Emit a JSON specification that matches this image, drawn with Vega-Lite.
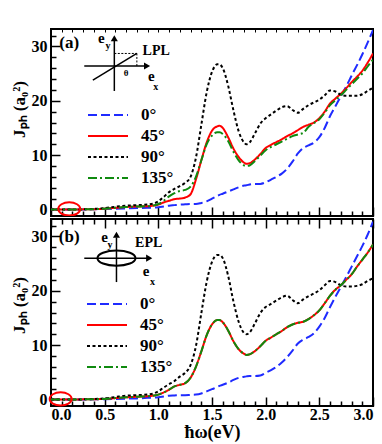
{
  "$schema": "https://vega.github.io/schema/vega-lite/v6.json",
  "padding": {"left": 9, "top": 27, "right": 5, "bottom": 5},
  "background": "white",
  "spacing": -8,
  "config": {
    "view": {"stroke": "black", "strokeWidth": 2},
    "font": "Liberation Serif",
    "axis": {"domain": false, "grid": false, "tickColor": "black", "tickWidth": 1.5, "labelColor": "black", "labelFont": "Liberation Serif", "labelFontWeight": "bold", "labelFontSize": 16, "titleColor": "black", "titleFont": "Liberation Serif", "titleFontWeight": "bold", "minExtent": 0},
    "legend": {"orient": "none", "title": null, "symbolType": "M-2,0H2", "symbolSize": 400, "symbolOffset": 9, "symbolStrokeWidth": 2, "labelFont": "Liberation Serif", "labelFontWeight": "bold", "labelFontSize": 17, "labelColor": "black", "labelOffset": 22, "padding": 0, "rowPadding": 2}
  },
  "datasets": {
    "da": [
      {"x": 0.0, "0°": 0, "45°": 0, "90°": 0, "135°": 0},
      {"x": 0.1, "0°": 0, "45°": 0, "90°": 0, "135°": 0},
      {"x": 0.2, "0°": 0, "45°": 0, "90°": 0, "135°": 0},
      {"x": 0.3, "0°": 0, "45°": 0.02, "90°": 0.02, "135°": 0.02},
      {"x": 0.4, "0°": 0.05, "45°": 0.05, "90°": 0.1, "135°": 0.05},
      {"x": 0.5, "0°": 0.1, "45°": 0.15, "90°": 0.25, "135°": 0.15},
      {"x": 0.6, "0°": 0.15, "45°": 0.3, "90°": 0.5, "135°": 0.3},
      {"x": 0.7, "0°": 0.2, "45°": 0.45, "90°": 0.7, "135°": 0.45},
      {"x": 0.8, "0°": 0.25, "45°": 0.55, "90°": 0.8, "135°": 0.55},
      {"x": 0.9, "0°": 0.3, "45°": 0.6, "90°": 0.9, "135°": 0.6},
      {"x": 1.0, "0°": 0.4, "45°": 0.9, "90°": 1.5, "135°": 1.0},
      {"x": 1.05, "0°": 0.55, "45°": 1.3, "90°": 2.3, "135°": 1.6},
      {"x": 1.1, "0°": 0.7, "45°": 1.6, "90°": 3.2, "135°": 2.4},
      {"x": 1.15, "0°": 0.8, "45°": 1.9, "90°": 3.8, "135°": 3.0},
      {"x": 1.2, "0°": 0.9, "45°": 2.0, "90°": 4.3, "135°": 3.4},
      {"x": 1.25, "0°": 0.95, "45°": 2.2, "90°": 4.9, "135°": 3.6},
      {"x": 1.3, "0°": 1.0, "45°": 2.8, "90°": 6.0, "135°": 4.2},
      {"x": 1.35, "0°": 1.0, "45°": 5.5, "90°": 9.5, "135°": 6.0},
      {"x": 1.4, "0°": 1.2, "45°": 9.0, "90°": 15.5, "135°": 9.0},
      {"x": 1.45, "0°": 1.5, "45°": 12.3, "90°": 21.5, "135°": 12.0},
      {"x": 1.5, "0°": 2.0, "45°": 14.5, "90°": 25.3, "135°": 13.6},
      {"x": 1.55, "0°": 2.5, "45°": 15.3, "90°": 26.7, "135°": 14.2},
      {"x": 1.57, "0°": 2.7, "45°": 15.4, "90°": 26.7, "135°": 14.2},
      {"x": 1.6, "0°": 2.9, "45°": 15.0, "90°": 26.0, "135°": 13.9},
      {"x": 1.65, "0°": 3.3, "45°": 13.3, "90°": 22.8, "135°": 12.6},
      {"x": 1.7, "0°": 3.7, "45°": 11.2, "90°": 18.2, "135°": 10.6},
      {"x": 1.75, "0°": 4.1, "45°": 9.6, "90°": 14.3, "135°": 9.0},
      {"x": 1.8, "0°": 4.4, "45°": 8.6, "90°": 12.3, "135°": 8.1},
      {"x": 1.82, "0°": 4.45, "45°": 8.4, "90°": 12.0, "135°": 8.0},
      {"x": 1.85, "0°": 4.6, "45°": 8.5, "90°": 12.3, "135°": 8.1},
      {"x": 1.9, "0°": 4.7, "45°": 9.2, "90°": 14.0, "135°": 8.9},
      {"x": 1.95, "0°": 4.7, "45°": 10.2, "90°": 15.8, "135°": 9.9},
      {"x": 2.0, "0°": 5.0, "45°": 11.3, "90°": 16.8, "135°": 10.9},
      {"x": 2.05, "0°": 5.5, "45°": 11.9, "90°": 17.5, "135°": 11.5},
      {"x": 2.1, "0°": 6.0, "45°": 12.4, "90°": 18.2, "135°": 12.0},
      {"x": 2.15, "0°": 6.6, "45°": 12.9, "90°": 18.8, "135°": 12.5},
      {"x": 2.2, "0°": 7.5, "45°": 13.5, "90°": 19.0, "135°": 13.0},
      {"x": 2.25, "0°": 8.8, "45°": 14.0, "90°": 18.3, "135°": 13.5},
      {"x": 2.3, "0°": 10.3, "45°": 14.6, "90°": 17.8, "135°": 13.8},
      {"x": 2.35, "0°": 11.3, "45°": 15.2, "90°": 18.5, "135°": 14.1},
      {"x": 2.4, "0°": 11.8, "45°": 15.6, "90°": 19.2, "135°": 15.2},
      {"x": 2.45, "0°": 12.3, "45°": 16.0, "90°": 19.7, "135°": 15.9},
      {"x": 2.5, "0°": 13.3, "45°": 16.8, "90°": 20.2, "135°": 16.6},
      {"x": 2.55, "0°": 15.0, "45°": 18.0, "90°": 21.0, "135°": 17.8},
      {"x": 2.6, "0°": 17.2, "45°": 19.5, "90°": 21.9, "135°": 19.2},
      {"x": 2.65, "0°": 19.0, "45°": 20.4, "90°": 21.7, "135°": 20.1},
      {"x": 2.7, "0°": 20.8, "45°": 21.3, "90°": 21.1, "135°": 21.0},
      {"x": 2.75, "0°": 22.6, "45°": 22.3, "90°": 20.9, "135°": 22.0},
      {"x": 2.8, "0°": 24.6, "45°": 23.4, "90°": 20.9, "135°": 23.0},
      {"x": 2.85, "0°": 26.5, "45°": 24.4, "90°": 20.9, "135°": 24.0},
      {"x": 2.9, "0°": 28.5, "45°": 25.5, "90°": 21.2, "135°": 25.0},
      {"x": 2.95, "0°": 30.7, "45°": 27.0, "90°": 21.8, "135°": 26.3},
      {"x": 3.0, "0°": 33.0, "45°": 28.7, "90°": 22.4, "135°": 27.6}
    ],
    "db": [
      {"x": 0.0, "0°": 0, "45°": 0, "90°": 0, "135°": 0},
      {"x": 0.1, "0°": 0, "45°": 0, "90°": 0, "135°": 0},
      {"x": 0.2, "0°": 0, "45°": 0, "90°": 0, "135°": 0},
      {"x": 0.3, "0°": 0, "45°": 0.02, "90°": 0.02, "135°": 0.02},
      {"x": 0.4, "0°": 0.02, "45°": 0.05, "90°": 0.08, "135°": 0.05},
      {"x": 0.5, "0°": 0.05, "45°": 0.1, "90°": 0.2, "135°": 0.1},
      {"x": 0.6, "0°": 0.1, "45°": 0.25, "90°": 0.45, "135°": 0.25},
      {"x": 0.7, "0°": 0.15, "45°": 0.4, "90°": 0.7, "135°": 0.4},
      {"x": 0.8, "0°": 0.2, "45°": 0.5, "90°": 0.8, "135°": 0.5},
      {"x": 0.9, "0°": 0.3, "45°": 0.6, "90°": 0.9, "135°": 0.6},
      {"x": 1.0, "0°": 0.4, "45°": 0.9, "90°": 1.5, "135°": 0.9},
      {"x": 1.05, "0°": 0.55, "45°": 1.3, "90°": 2.2, "135°": 1.3},
      {"x": 1.1, "0°": 0.7, "45°": 1.8, "90°": 2.8, "135°": 1.8},
      {"x": 1.15, "0°": 0.75, "45°": 2.4, "90°": 3.4, "135°": 2.4},
      {"x": 1.2, "0°": 0.8, "45°": 2.7, "90°": 4.2, "135°": 2.7},
      {"x": 1.25, "0°": 0.8, "45°": 3.0, "90°": 4.9, "135°": 3.0},
      {"x": 1.3, "0°": 0.85, "45°": 4.0, "90°": 6.3, "135°": 4.0},
      {"x": 1.35, "0°": 0.9, "45°": 6.0, "90°": 9.8, "135°": 6.0},
      {"x": 1.4, "0°": 1.1, "45°": 8.8, "90°": 15.8, "135°": 8.8},
      {"x": 1.45, "0°": 1.5, "45°": 11.8, "90°": 21.6, "135°": 11.8},
      {"x": 1.5, "0°": 1.9, "45°": 13.8, "90°": 25.3, "135°": 13.8},
      {"x": 1.55, "0°": 2.3, "45°": 14.6, "90°": 26.6, "135°": 14.6},
      {"x": 1.57, "0°": 2.5, "45°": 14.6, "90°": 26.6, "135°": 14.6},
      {"x": 1.6, "0°": 2.7, "45°": 14.2, "90°": 26.0, "135°": 14.2},
      {"x": 1.65, "0°": 3.1, "45°": 12.7, "90°": 22.8, "135°": 12.7},
      {"x": 1.7, "0°": 3.6, "45°": 10.7, "90°": 18.0, "135°": 10.7},
      {"x": 1.75, "0°": 4.0, "45°": 9.2, "90°": 14.2, "135°": 9.2},
      {"x": 1.8, "0°": 4.2, "45°": 8.4, "90°": 12.2, "135°": 8.4},
      {"x": 1.82, "0°": 4.25, "45°": 8.2, "90°": 12.0, "135°": 8.2},
      {"x": 1.85, "0°": 4.3, "45°": 8.3, "90°": 12.3, "135°": 8.3},
      {"x": 1.9, "0°": 4.3, "45°": 8.9, "90°": 14.0, "135°": 8.9},
      {"x": 1.95, "0°": 4.4, "45°": 9.8, "90°": 15.9, "135°": 9.8},
      {"x": 2.0, "0°": 4.9, "45°": 10.8, "90°": 17.0, "135°": 10.8},
      {"x": 2.05, "0°": 5.4, "45°": 11.4, "90°": 17.6, "135°": 11.4},
      {"x": 2.1, "0°": 6.0, "45°": 12.0, "90°": 18.2, "135°": 12.0},
      {"x": 2.15, "0°": 6.8, "45°": 12.6, "90°": 18.8, "135°": 12.6},
      {"x": 2.2, "0°": 7.8, "45°": 13.3, "90°": 19.1, "135°": 13.3},
      {"x": 2.25, "0°": 9.0, "45°": 13.8, "90°": 18.3, "135°": 13.8},
      {"x": 2.3, "0°": 10.3, "45°": 14.1, "90°": 17.7, "135°": 14.1},
      {"x": 2.35, "0°": 11.0, "45°": 14.3, "90°": 18.4, "135°": 14.3},
      {"x": 2.4, "0°": 11.5, "45°": 14.8, "90°": 19.0, "135°": 14.8},
      {"x": 2.45, "0°": 12.2, "45°": 15.5, "90°": 19.5, "135°": 15.5},
      {"x": 2.5, "0°": 13.4, "45°": 16.4, "90°": 20.1, "135°": 16.4},
      {"x": 2.55, "0°": 15.0, "45°": 17.7, "90°": 21.0, "135°": 17.7},
      {"x": 2.6, "0°": 17.0, "45°": 19.1, "90°": 21.8, "135°": 19.1},
      {"x": 2.65, "0°": 18.9, "45°": 20.2, "90°": 21.6, "135°": 20.2},
      {"x": 2.7, "0°": 20.7, "45°": 21.0, "90°": 21.0, "135°": 21.0},
      {"x": 2.75, "0°": 22.5, "45°": 22.0, "90°": 20.8, "135°": 22.0},
      {"x": 2.8, "0°": 24.4, "45°": 23.0, "90°": 20.8, "135°": 23.0},
      {"x": 2.85, "0°": 26.3, "45°": 24.4, "90°": 20.9, "135°": 24.4},
      {"x": 2.9, "0°": 28.2, "45°": 25.7, "90°": 21.2, "135°": 25.7},
      {"x": 2.95, "0°": 30.3, "45°": 27.0, "90°": 21.8, "135°": 27.0},
      {"x": 3.0, "0°": 32.7, "45°": 28.5, "90°": 22.3, "135°": 28.5}
    ]
  },
  "vconcat": [
    {
      "width": 322,
      "height": 187,
      "resolve": {"axis": {"x": "independent", "y": "independent"}},
      "layer": [
        {
          "data": {"name": "da"},
          "transform": [{"fold": ["0°", "45°", "90°", "135°"], "as": ["angle", "J"]}],
          "mark": {"type": "line", "strokeWidth": 2, "interpolate": "monotone", "clip": true},
          "encoding": {
            "x": {"field": "x", "type": "quantitative", "scale": {"domain": [0, 3], "nice": false},
                  "axis": {"orient": "bottom", "values": [0, 0.5, 1, 1.5, 2, 2.5, 3], "tickSize": 9, "offset": -9, "labels": false, "title": null, "maxExtent": 0}},
            "y": {"field": "J", "type": "quantitative", "scale": {"domain": [-1.2, 33.2], "nice": false, "zero": false},
                  "axis": {"orient": "left", "values": [0, 10, 20, 30], "tickSize": 9, "offset": -9, "labelPadding": 4, "title": "Jₚₕ (a₀²)", "titleFontSize": 17, "titleX": -41, "titleY": 80, "titleBaseline": "middle"}},
            "color": {"field": "angle", "type": "nominal",
                      "scale": {"domain": ["0°", "45°", "90°", "135°"], "range": ["#1f2bff", "#ff0000", "#000000", "#0f8a0f"]},
                      "legend": {"legendX": 37, "legendY": 75}},
            "strokeDash": {"field": "angle", "type": "nominal",
                      "scale": {"domain": ["0°", "45°", "90°", "135°"], "range": [[9, 4], [1, 0], [3, 2.5], [9, 3, 2, 3]]},
                      "legend": {"legendX": 37, "legendY": 75}}
          }
        },
        {
          "data": {"name": "da"},
          "mark": {"type": "point", "opacity": 0, "clip": true},
          "encoding": {
            "x": {"field": "x", "type": "quantitative", "axis": {"orient": "bottom", "values": [0.1, 0.2, 0.3, 0.4, 0.6, 0.7, 0.8, 0.9, 1.1, 1.2, 1.3, 1.4, 1.6, 1.7, 1.8, 1.9, 2.1, 2.2, 2.3, 2.4, 2.6, 2.7, 2.8, 2.9], "tickSize": 5, "offset": -5, "labels": false, "title": null, "maxExtent": 0}},
            "y": {"field": "45°", "type": "quantitative", "axis": {"orient": "left", "values": [2, 4, 6, 8, 12, 14, 16, 18, 22, 24, 26, 28, 32], "tickSize": 5, "offset": -5, "labels": false, "title": null, "maxExtent": 0}}
          }
        },
        {
          "data": {"name": "da"},
          "mark": {"type": "point", "opacity": 0, "clip": true},
          "encoding": {
            "x": {"field": "x", "type": "quantitative", "axis": {"orient": "top", "values": [0.1, 0.2, 0.3, 0.4, 0.5, 0.6, 0.7, 0.8, 0.9, 1, 1.1, 1.2, 1.3, 1.4, 1.5, 1.6, 1.7, 1.8, 1.9, 2, 2.1, 2.2, 2.3, 2.4, 2.5, 2.6, 2.7, 2.8, 2.9], "tickSize": 3, "offset": -3, "tickWidth": 1, "labels": false, "title": null, "maxExtent": 0}},
            "y": {"field": "45°", "type": "quantitative", "axis": null}
          }
        },
        {
          "data": {"values": [{}]},
          "mark": {"type": "rule", "color": "black", "strokeWidth": 1.5},
          "encoding": {"x": {"datum": 0.31, "type": "quantitative", "axis": null}, "x2": {"datum": 0.88}, "y": {"datum": 26.4, "type": "quantitative", "axis": null}}
        },
        {
          "data": {"values": [{}]},
          "mark": {"type": "rule", "color": "black", "strokeWidth": 1.5},
          "encoding": {"x": {"datum": 0.59, "type": "quantitative", "axis": null}, "y": {"datum": 21.8, "type": "quantitative", "axis": null}, "y2": {"datum": 31.0}}
        },
        {
          "data": {"values": [{}]},
          "mark": {"type": "rule", "color": "black", "strokeWidth": 1.5},
          "encoding": {"x": {"datum": 0.39, "type": "quantitative", "axis": null}, "x2": {"datum": 0.80}, "y": {"datum": 23.8, "type": "quantitative", "axis": null}, "y2": {"datum": 28.7}}
        },
        {
          "data": {"values": [{}]},
          "mark": {"type": "rule", "color": "black", "strokeWidth": 1, "strokeDash": [2, 1.5]},
          "encoding": {"x": {"datum": 0.59, "type": "quantitative", "axis": null}, "x2": {"datum": 0.80}, "y": {"datum": 28.7, "type": "quantitative", "axis": null}}
        },
        {
          "data": {"values": [{}]},
          "mark": {"type": "rule", "color": "black", "strokeWidth": 1, "strokeDash": [2, 1.5]},
          "encoding": {"x": {"datum": 0.80, "type": "quantitative", "axis": null}, "y": {"datum": 26.4, "type": "quantitative", "axis": null}, "y2": {"datum": 28.7}}
        },
        {
          "data": {"values": [{}]},
          "mark": {"type": "point", "shape": "triangle-right", "filled": true, "color": "black", "size": 50, "opacity": 1},
          "encoding": {"x": {"datum": 0.895, "type": "quantitative", "axis": null}, "y": {"datum": 26.4, "type": "quantitative", "axis": null}}
        },
        {
          "data": {"values": [{}]},
          "mark": {"type": "point", "shape": "triangle-up", "filled": true, "color": "black", "size": 50, "opacity": 1},
          "encoding": {"x": {"datum": 0.59, "type": "quantitative", "axis": null}, "y": {"datum": 31.5, "type": "quantitative", "axis": null}}
        },
        {
          "data": {"values": [{}]},
          "mark": {"type": "text", "text": "θ", "font": "Liberation Serif", "fontWeight": "bold", "fontSize": 9, "color": "black"},
          "encoding": {"x": {"datum": 0.70, "type": "quantitative", "axis": null}, "y": {"datum": 25.1, "type": "quantitative", "axis": null}}
        },
        {
          "data": {"values": [{}]},
          "mark": {"type": "text", "text": "e", "font": "Liberation Serif", "fontWeight": "bold", "fontSize": 15, "color": "black"},
          "encoding": {"x": {"datum": 0.47, "type": "quantitative", "axis": null}, "y": {"datum": 31.6, "type": "quantitative", "axis": null}}
        },
        {
          "data": {"values": [{}]},
          "mark": {"type": "text", "text": "y", "font": "Liberation Serif", "fontWeight": "bold", "fontSize": 10, "color": "black"},
          "encoding": {"x": {"datum": 0.53, "type": "quantitative", "axis": null}, "y": {"datum": 30.1, "type": "quantitative", "axis": null}}
        },
        {
          "data": {"values": [{}]},
          "mark": {"type": "text", "text": "e", "font": "Liberation Serif", "fontWeight": "bold", "fontSize": 15, "color": "black"},
          "encoding": {"x": {"datum": 0.935, "type": "quantitative", "axis": null}, "y": {"datum": 24.6, "type": "quantitative", "axis": null}}
        },
        {
          "data": {"values": [{}]},
          "mark": {"type": "text", "text": "x", "font": "Liberation Serif", "fontWeight": "bold", "fontSize": 10, "color": "black"},
          "encoding": {"x": {"datum": 0.975, "type": "quantitative", "axis": null}, "y": {"datum": 22.5, "type": "quantitative", "axis": null}}
        },
        {
          "data": {"values": [{}]},
          "mark": {"type": "text", "text": "LPL", "font": "Liberation Serif", "fontWeight": "bold", "fontSize": 14, "color": "black"},
          "encoding": {"x": {"datum": 0.98, "type": "quantitative", "axis": null}, "y": {"datum": 29.2, "type": "quantitative", "axis": null}}
        },
        {
          "data": {"values": [{}]},
          "mark": {"type": "text", "text": "(a)", "font": "Liberation Serif", "fontWeight": "bold", "fontSize": 17, "color": "black"},
          "encoding": {"x": {"datum": 0.17, "type": "quantitative", "axis": null}, "y": {"datum": 30.6, "type": "quantitative", "axis": null}}
        },
        {
          "data": {"values": [{}]},
          "mark": {"type": "point", "shape": "M-1,0A1,0.6,0,1,1,1,0A1,0.6,0,1,1,-1,0Z", "filled": false, "color": "#ff0000", "strokeWidth": 2, "size": 484, "opacity": 1, "clip": true},
          "encoding": {"x": {"datum": 0.17, "type": "quantitative", "axis": null}, "y": {"datum": 0.1, "type": "quantitative", "axis": null}}
        }
      ]
    },
    {
      "width": 322,
      "height": 187,
      "resolve": {"axis": {"x": "independent", "y": "independent"}},
      "layer": [
        {
          "data": {"name": "db"},
          "transform": [{"fold": ["0°", "45°", "90°", "135°"], "as": ["angle", "J"]}],
          "mark": {"type": "line", "strokeWidth": 2, "interpolate": "monotone", "clip": true},
          "encoding": {
            "x": {"field": "x", "type": "quantitative", "scale": {"domain": [0, 3], "nice": false},
                  "axis": {"orient": "bottom", "values": [0, 0.5, 1, 1.5, 2, 2.5, 3], "format": ".1f", "tickSize": 9, "offset": -9, "labelPadding": 0, "title": "ħω(eV)", "titleFontSize": 18, "titlePadding": 1}},
            "y": {"field": "J", "type": "quantitative", "scale": {"domain": [-1.2, 33.2], "nice": false, "zero": false},
                  "axis": {"orient": "left", "values": [0, 10, 20, 30], "tickSize": 9, "offset": -9, "labelPadding": 4, "title": "Jₚₕ (a₀²)", "titleFontSize": 17, "titleX": -41, "titleY": 86, "titleBaseline": "middle"}},
            "color": {"field": "angle", "type": "nominal",
                      "scale": {"domain": ["0°", "45°", "90°", "135°"], "range": ["#1f2bff", "#ff0000", "#000000", "#0f8a0f"]},
                      "legend": {"legendX": 36, "legendY": 74}},
            "strokeDash": {"field": "angle", "type": "nominal",
                      "scale": {"domain": ["0°", "45°", "90°", "135°"], "range": [[9, 4], [1, 0], [3, 2.5], [9, 3, 2, 3]]},
                      "legend": {"legendX": 36, "legendY": 74}}
          }
        },
        {
          "data": {"name": "db"},
          "mark": {"type": "point", "opacity": 0, "clip": true},
          "encoding": {
            "x": {"field": "x", "type": "quantitative", "axis": {"orient": "bottom", "values": [0.1, 0.2, 0.3, 0.4, 0.6, 0.7, 0.8, 0.9, 1.1, 1.2, 1.3, 1.4, 1.6, 1.7, 1.8, 1.9, 2.1, 2.2, 2.3, 2.4, 2.6, 2.7, 2.8, 2.9], "tickSize": 5, "offset": -5, "labels": false, "title": null, "maxExtent": 0}},
            "y": {"field": "45°", "type": "quantitative", "axis": {"orient": "left", "values": [2, 4, 6, 8, 12, 14, 16, 18, 22, 24, 26, 28, 32], "tickSize": 5, "offset": -5, "labels": false, "title": null, "maxExtent": 0}}
          }
        },
        {
          "data": {"name": "db"},
          "mark": {"type": "point", "opacity": 0, "clip": true},
          "encoding": {
            "x": {"field": "x", "type": "quantitative", "axis": {"orient": "top", "values": [0, 0.5, 1, 1.5, 2, 2.5, 3], "tickSize": 9, "offset": -9, "labels": false, "title": null, "maxExtent": 0}},
            "y": {"field": "45°", "type": "quantitative", "axis": null}
          }
        },
        {
          "data": {"name": "db"},
          "mark": {"type": "point", "opacity": 0, "clip": true},
          "encoding": {
            "x": {"field": "x", "type": "quantitative", "axis": {"orient": "top", "values": [0.1, 0.2, 0.3, 0.4, 0.6, 0.7, 0.8, 0.9, 1.1, 1.2, 1.3, 1.4, 1.6, 1.7, 1.8, 1.9, 2.1, 2.2, 2.3, 2.4, 2.6, 2.7, 2.8, 2.9], "tickSize": 5, "offset": -5, "labels": false, "title": null, "maxExtent": 0}},
            "y": {"field": "45°", "type": "quantitative", "axis": null}
          }
        },
        {
          "data": {"values": [{}]},
          "mark": {"type": "rule", "color": "black", "strokeWidth": 1.5},
          "encoding": {"x": {"datum": 0.31, "type": "quantitative", "axis": null}, "x2": {"datum": 0.90}, "y": {"datum": 26.0, "type": "quantitative", "axis": null}}
        },
        {
          "data": {"values": [{}]},
          "mark": {"type": "rule", "color": "black", "strokeWidth": 1.5},
          "encoding": {"x": {"datum": 0.61, "type": "quantitative", "axis": null}, "y": {"datum": 21.6, "type": "quantitative", "axis": null}, "y2": {"datum": 29.8}}
        },
        {
          "data": {"values": [{}]},
          "mark": {"type": "point", "shape": "triangle-right", "filled": true, "color": "black", "size": 50, "opacity": 1},
          "encoding": {"x": {"datum": 0.915, "type": "quantitative", "axis": null}, "y": {"datum": 26.0, "type": "quantitative", "axis": null}}
        },
        {
          "data": {"values": [{}]},
          "mark": {"type": "point", "shape": "triangle-up", "filled": true, "color": "black", "size": 50, "opacity": 1},
          "encoding": {"x": {"datum": 0.61, "type": "quantitative", "axis": null}, "y": {"datum": 30.3, "type": "quantitative", "axis": null}}
        },
        {
          "data": {"values": [{}]},
          "mark": {"type": "point", "shape": "M-1,0A1,0.4,0,1,1,1,0A1,0.4,0,1,1,-1,0Z", "filled": false, "color": "black", "strokeWidth": 2, "size": 1444, "opacity": 1, "clip": true},
          "encoding": {"x": {"datum": 0.61, "type": "quantitative", "axis": null}, "y": {"datum": 26.0, "type": "quantitative", "axis": null}}
        },
        {
          "data": {"values": [{}]},
          "mark": {"type": "text", "text": "e", "font": "Liberation Serif", "fontWeight": "bold", "fontSize": 15, "color": "black"},
          "encoding": {"x": {"datum": 0.50, "type": "quantitative", "axis": null}, "y": {"datum": 29.9, "type": "quantitative", "axis": null}}
        },
        {
          "data": {"values": [{}]},
          "mark": {"type": "text", "text": "y", "font": "Liberation Serif", "fontWeight": "bold", "fontSize": 10, "color": "black"},
          "encoding": {"x": {"datum": 0.55, "type": "quantitative", "axis": null}, "y": {"datum": 28.5, "type": "quantitative", "axis": null}}
        },
        {
          "data": {"values": [{}]},
          "mark": {"type": "text", "text": "e", "font": "Liberation Serif", "fontWeight": "bold", "fontSize": 15, "color": "black"},
          "encoding": {"x": {"datum": 0.885, "type": "quantitative", "axis": null}, "y": {"datum": 23.7, "type": "quantitative", "axis": null}}
        },
        {
          "data": {"values": [{}]},
          "mark": {"type": "text", "text": "x", "font": "Liberation Serif", "fontWeight": "bold", "fontSize": 10, "color": "black"},
          "encoding": {"x": {"datum": 0.945, "type": "quantitative", "axis": null}, "y": {"datum": 21.7, "type": "quantitative", "axis": null}}
        },
        {
          "data": {"values": [{}]},
          "mark": {"type": "text", "text": "EPL", "font": "Liberation Serif", "fontWeight": "bold", "fontSize": 14, "color": "black"},
          "encoding": {"x": {"datum": 0.91, "type": "quantitative", "axis": null}, "y": {"datum": 28.8, "type": "quantitative", "axis": null}}
        },
        {
          "data": {"values": [{}]},
          "mark": {"type": "text", "text": "(b)", "font": "Liberation Serif", "fontWeight": "bold", "fontSize": 17, "color": "black"},
          "encoding": {"x": {"datum": 0.17, "type": "quantitative", "axis": null}, "y": {"datum": 29.8, "type": "quantitative", "axis": null}}
        },
        {
          "data": {"values": [{}]},
          "mark": {"type": "point", "shape": "M-1,0A1,0.6,0,1,1,1,0A1,0.6,0,1,1,-1,0Z", "filled": false, "color": "#ff0000", "strokeWidth": 2, "size": 484, "opacity": 1},
          "encoding": {"x": {"datum": 0.09, "type": "quantitative", "axis": null}, "y": {"datum": 0.1, "type": "quantitative", "axis": null}}
        }
      ]
    }
  ],
  "resolve": {"legend": {"color": "independent", "strokeDash": "independent"}}
}
